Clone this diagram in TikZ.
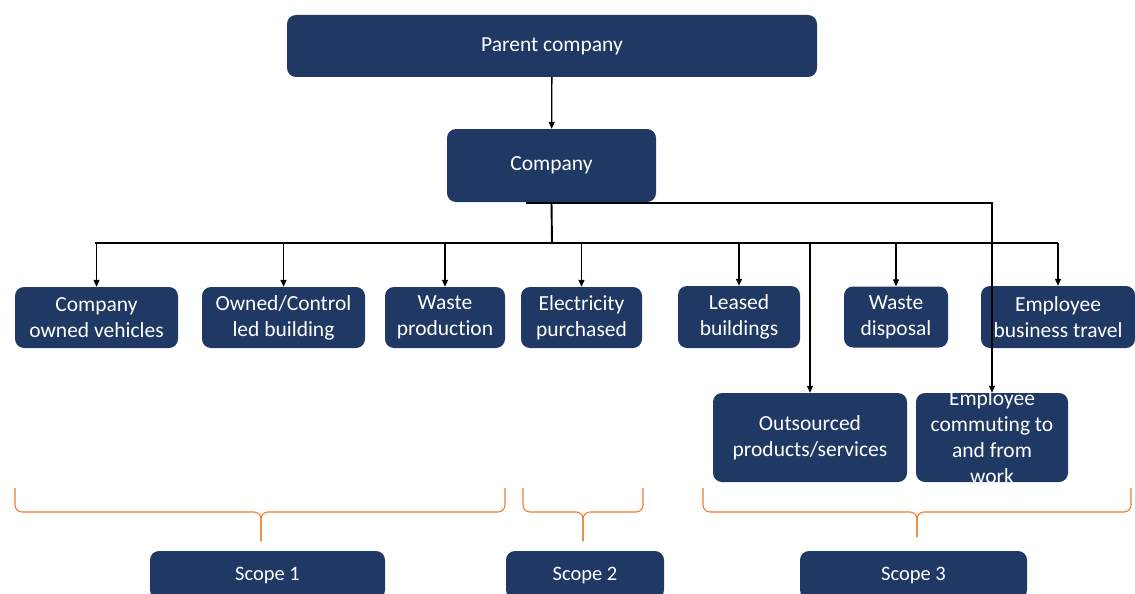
\documentclass[tikz,border=0pt]{standalone}
\usepackage{fontspec}
\setmainfont{Carlito}[Ligatures=NoCommon]
\usetikzlibrary{arrows.meta}
\definecolor{navy}{RGB}{31,56,100}
\definecolor{braceorange}{RGB}{237,125,49}
\tikzset{
	box/.style={fill=navy, rounded corners=9pt, text=white, align=center, inner sep=0pt,
		font=\fontsize{21.5}{26}\selectfont},
	scopebox/.style={box, minimum height=48pt, font=\fontsize{20.5}{24}\selectfont},
	link/.style={draw=black, line width=1.3pt},
	arr/.style={link, -{Triangle[length=7pt,width=6pt]}},
	scopebrace/.style={draw=braceorange, line width=1.1pt, rounded corners=7pt},
}

\begin{document}
\begin{tikzpicture}[x=1pt,y=-1pt]
		\useasboundingbox (0,0) rectangle (1135,594);
		
		\node[box, minimum width=530pt, minimum height=62pt] (parent) at (552,46)	{Parent company};
		\node[box, minimum width=209pt, minimum height=73pt] (company) at (551.5,165.5)	{Company};
		
		\node[box, minimum width=163pt, minimum height=61pt] (vehicles) at (96.5,317.5)	{Company\\owned vehicles};
		\node[box, minimum width=163pt, minimum height=61pt] (building) at (283.5,317.5)	{Owned/Control\\led building};
		\node[box, minimum width=120pt, minimum height=61pt] (wasteprod) at (445,317.5)	{Waste\\production};
		\node[box, minimum width=121pt, minimum height=61pt] (electricity) at (581.5,317.5)	{Electricity\\purchased};
		\node[box, minimum width=122pt, minimum height=62pt] (leased) at (739,317)	{Leased\\buildings};
		\node[box, minimum width=104pt, minimum height=61pt] (disposal) at (896,317)	{Waste\\disposal};
		\node[box, minimum width=154pt, minimum height=62pt] (travel) at (1058,317)	{Employee\\business travel};
		
		\node[box, minimum width=194pt, minimum height=89pt] (outsourced) at (810,437.5)	{Outsourced\\products/services};
		\node[box, minimum width=152pt, minimum height=89pt] (commuting) at (992,437.5)
			{\parbox[c][60pt][c]{150pt}{\centering Employee\\commuting to\\and from\\work}};
		
		\node[scopebox, minimum width=235pt] (scope1) at (267.5,575)	{Scope 1};
		\node[scopebox, minimum width=158pt] (scope2) at (585,575)	{Scope 2};
		\node[scopebox, minimum width=227pt] (scope3) at (913.5,575)	{Scope 3};
		
		\coordinate (trunk) at (552,243);
		\coordinate (tl) at (95,243);
		\coordinate (tr) at (1058,243);
		\coordinate (side) at (526,203);
		
		\draw[arr] (parent) -- (company);
		\draw[link, line width=1.9pt] (company.south) -- (trunk);
		\draw[link] (tl) -- (tr);
		\foreach \n in {vehicles,building,wasteprod,electricity,leased,outsourced,disposal,travel}
			\draw[arr] (\n.north |- trunk) -- (\n.north);
		\draw[arr] (side) -| (commuting.north);
		
		% scope brackets
		\draw[scopebrace] (15,488) |- (261,512) -- (261,541);
		\draw[scopebrace] (505,488) |- (261,512) -- (261,541);
		\draw[scopebrace] (523,488) |- (583,512) -- (583,541);
		\draw[scopebrace] (643,488) |- (583,512) -- (583,541);
		\draw[scopebrace] (703,488) |- (917,512) -- (917,537);
		\draw[scopebrace] (1131,488) |- (917,512) -- (917,537);
	\end{tikzpicture}
\end{document}
